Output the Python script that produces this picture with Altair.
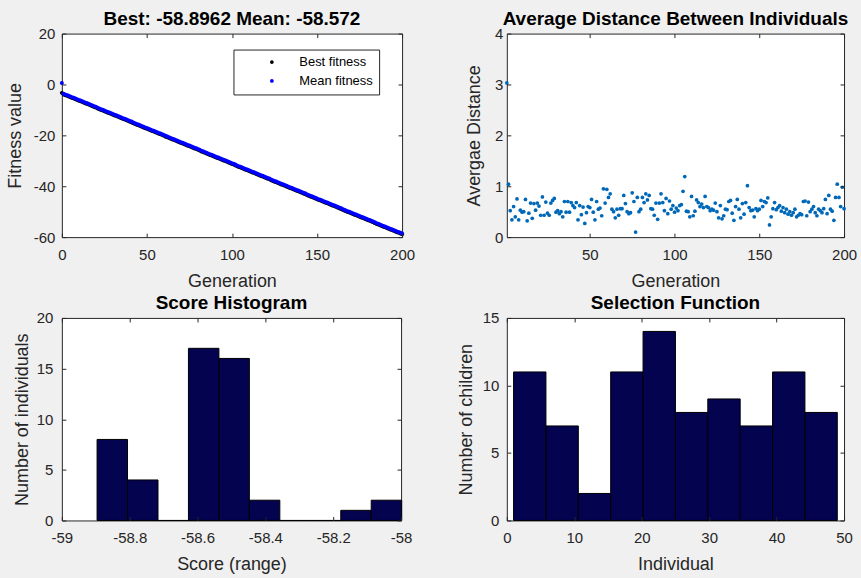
import altair as alt
import pandas as pd

FONT = "Liberation Sans"
AXC = "#262626"

# ---------------- Panel 1: fitness ----------------
generation = list(range(201))
best_fitness = [
    -3.3, -3.9, -4.2, -4.4, -4.7, -5.0, -5.3, -5.5, -5.8, -6.1, -6.4,
    -6.6, -6.9, -7.2, -7.5, -7.7, -8.0, -8.3, -8.6, -8.9, -9.1,
    -9.4, -9.7, -10.0, -10.2, -10.5, -10.8, -11.1, -11.3, -11.6, -11.9,
    -12.2, -12.4, -12.7, -13.0, -13.3, -13.6, -13.8, -14.1, -14.4, -14.7,
    -14.9, -15.2, -15.5, -15.8, -16.0, -16.3, -16.6, -16.9, -17.2, -17.4,
    -17.7, -18.0, -18.3, -18.5, -18.8, -19.1, -19.4, -19.6, -19.9, -20.2,
    -20.5, -20.7, -21.0, -21.3, -21.6, -21.8, -22.1, -22.4, -22.7, -23.0,
    -23.2, -23.5, -23.8, -24.1, -24.3, -24.6, -24.9, -25.2, -25.4, -25.7,
    -26.0, -26.3, -26.5, -26.8, -27.1, -27.4, -27.7, -27.9, -28.2, -28.5,
    -28.8, -29.0, -29.3, -29.6, -29.9, -30.1, -30.4, -30.7, -31.0, -31.3,
    -31.5, -31.8, -32.1, -32.4, -32.6, -32.9, -33.2, -33.5, -33.7, -34.0,
    -34.3, -34.6, -34.8, -35.1, -35.4, -35.7, -36.0, -36.2, -36.5, -36.8,
    -37.1, -37.3, -37.6, -37.9, -38.2, -38.4, -38.7, -39.0, -39.3, -39.5,
    -39.8, -40.1, -40.4, -40.7, -40.9, -41.2, -41.5, -41.8, -42.0, -42.3,
    -42.6, -42.9, -43.1, -43.4, -43.7, -44.0, -44.2, -44.5, -44.8, -45.1,
    -45.4, -45.6, -45.9, -46.2, -46.5, -46.7, -47.0, -47.3, -47.6, -47.8,
    -48.1, -48.4, -48.7, -48.9, -49.2, -49.5, -49.8, -50.1, -50.3, -50.6,
    -50.9, -51.2, -51.4, -51.7, -52.0, -52.3, -52.5, -52.8, -53.1, -53.4,
    -53.6, -53.9, -54.2, -54.5, -54.8, -55.0, -55.3, -55.6, -55.9, -56.1,
    -56.4, -56.7, -57.0, -57.2, -57.5, -57.8, -58.1, -58.3, -58.6, -58.8962,
]
mean_fitness = [
    0.6, -3.6, -3.9, -4.1, -4.4, -4.7, -5.0, -5.2, -5.5, -5.8, -6.1,
    -6.3, -6.6, -6.9, -7.2, -7.4, -7.7, -8.0, -8.3, -8.6, -8.8,
    -9.1, -9.4, -9.7, -9.9, -10.2, -10.5, -10.8, -11.0, -11.3, -11.6,
    -11.9, -12.1, -12.4, -12.7, -13.0, -13.3, -13.5, -13.8, -14.1, -14.4,
    -14.6, -14.9, -15.2, -15.5, -15.7, -16.0, -16.3, -16.6, -16.9, -17.1,
    -17.4, -17.7, -18.0, -18.2, -18.5, -18.8, -19.1, -19.3, -19.6, -19.9,
    -20.2, -20.4, -20.7, -21.0, -21.3, -21.5, -21.8, -22.1, -22.4, -22.7,
    -22.9, -23.2, -23.5, -23.8, -24.0, -24.3, -24.6, -24.9, -25.1, -25.4,
    -25.7, -26.0, -26.2, -26.5, -26.8, -27.1, -27.4, -27.6, -27.9, -28.2,
    -28.5, -28.7, -29.0, -29.3, -29.6, -29.8, -30.1, -30.4, -30.7, -31.0,
    -31.2, -31.5, -31.8, -32.1, -32.3, -32.6, -32.9, -33.2, -33.4, -33.7,
    -34.0, -34.3, -34.5, -34.8, -35.1, -35.4, -35.7, -35.9, -36.2, -36.5,
    -36.8, -37.0, -37.3, -37.6, -37.9, -38.1, -38.4, -38.7, -39.0, -39.2,
    -39.5, -39.8, -40.1, -40.4, -40.6, -40.9, -41.2, -41.5, -41.7, -42.0,
    -42.3, -42.6, -42.8, -43.1, -43.4, -43.7, -43.9, -44.2, -44.5, -44.8,
    -45.1, -45.3, -45.6, -45.9, -46.2, -46.4, -46.7, -47.0, -47.3, -47.5,
    -47.8, -48.1, -48.4, -48.6, -48.9, -49.2, -49.5, -49.8, -50.0, -50.3,
    -50.6, -50.9, -51.1, -51.4, -51.7, -52.0, -52.2, -52.5, -52.8, -53.1,
    -53.3, -53.6, -53.9, -54.2, -54.5, -54.7, -55.0, -55.3, -55.6, -55.8,
    -56.1, -56.4, -56.7, -56.9, -57.2, -57.5, -57.8, -58.0, -58.3, -58.572,
]
fitness_series = ["Best fitness", "Mean fitness"]
fitness_x_ticks = [0, 50, 100, 150, 200]
fitness_y_ticks = [-60, -40, -20, 0, 20]

# ---------------- Panel 2: average distance ----------------
dist_generation = list(range(1, 201))
avg_distance = [
    3.03, 1.04, 0.52, 0.34, 0.60, 0.40, 0.75, 0.34, 0.53, 0.49,
    0.50, 0.74, 0.32, 0.47, 0.67, 0.37, 0.66, 0.53, 0.67, 0.61,
    0.43, 0.79, 0.43, 0.69, 0.47, 0.43, 0.67, 0.72, 0.76, 0.49,
    0.52, 0.46, 0.50, 0.40, 0.70, 0.49, 0.70, 0.49, 0.68, 0.62,
    0.58, 0.68, 0.34, 0.62, 0.44, 0.59, 0.27, 0.48, 0.60, 0.58,
    0.74, 0.49, 0.34, 0.70, 0.55, 0.57, 0.42, 0.95, 0.67, 0.94,
    0.78, 0.85, 0.55, 0.50, 0.38, 0.55, 0.43, 0.56, 0.56, 0.82,
    0.66, 0.50, 0.46, 0.48, 0.87, 0.70, 0.10, 0.78, 0.50, 0.55,
    0.78, 0.68, 0.85, 0.73, 0.82, 0.56, 0.55, 0.43, 0.67, 0.35,
    0.67, 0.85, 0.68, 0.52, 0.76, 0.46, 0.71, 0.55, 0.62, 0.49,
    0.57, 0.52, 0.62, 0.64, 0.90, 1.19, 0.51, 0.50, 0.40, 0.80,
    0.42, 0.51, 0.73, 0.68, 0.60, 0.65, 0.58, 0.80, 0.60, 0.58,
    0.52, 0.55, 0.53, 0.67, 0.50, 0.38, 0.62, 0.36, 0.42, 0.55,
    0.54, 0.70, 0.72, 0.47, 0.33, 0.60, 0.74, 0.55, 0.38, 0.66,
    0.45, 0.68, 1.01, 0.58, 0.52, 0.53, 0.40, 0.56, 0.52, 0.55,
    0.72, 0.60, 0.70, 0.68, 0.77, 0.24, 0.40, 0.56, 0.68, 0.54,
    0.58, 0.62, 0.51, 0.58, 0.48, 0.55, 0.45, 0.50, 0.43, 0.48,
    0.55, 0.40, 0.43, 0.46, 0.44, 0.70, 0.71, 0.42, 0.69, 0.50,
    0.55, 0.60, 0.48, 0.42, 0.55, 0.52, 0.48, 0.56, 0.74, 0.46,
    0.82, 0.55, 0.51, 0.33, 0.78, 1.04, 0.78, 0.60, 0.98, 0.56,
]
dist_x_ticks = [50, 100, 150, 200]
dist_y_ticks = [0, 1, 2, 3, 4]

# ---------------- Panel 3: score histogram ----------------
score_bin_start = [-58.8962, -58.8064, -58.7166, -58.6268, -58.5370,
                   -58.4472, -58.3574, -58.2676, -58.1778, -58.0880]
score_bin_end = [-58.8064, -58.7166, -58.6268, -58.5370, -58.4472,
                 -58.3574, -58.2676, -58.1778, -58.0880, -57.9982]
score_counts = [8, 4, 0, 17, 16, 2, 0, 0, 1, 2]
score_x_ticks = [-59, -58.8, -58.6, -58.4, -58.2, -58]
score_y_ticks = [0, 5, 10, 15, 20]

# ---------------- Panel 4: selection function ----------------
sel_bin_start = [1, 5.8, 10.6, 15.4, 20.2, 25.0, 29.8, 34.6, 39.4, 44.2]
sel_bin_end = [5.8, 10.6, 15.4, 20.2, 25.0, 29.8, 34.6, 39.4, 44.2, 49]
sel_counts = [11, 7, 2, 11, 14, 8, 9, 7, 11, 8]
sel_x_ticks = [0, 10, 20, 30, 40, 50]
sel_y_ticks = [0, 5, 10, 15]

BAR_FILL = "#03034f"


def ax(values, orient, title=None, label_pad=10, title_pad=39, labels=True):
    kw = dict(
        values=values, orient=orient, domain=False, grid=False, ticks=True,
        tickSize=4, offset=-4, tickColor=AXC, tickWidth=1,
        labels=labels, labelColor=AXC, labelFont=FONT, labelFontSize=15,
        labelPadding=label_pad, labelOverlap=False, labelFlush=False,
        labelBound=False, labelExpr="'' + datum.value",
        minExtent=0, maxExtent=0, zindex=1,
    )
    if title is not None:
        kw.update(title=title, titleFont=FONT, titleFontSize=18,
                  titleFontWeight="normal", titleColor=AXC,
                  titlePadding=title_pad)
    else:
        kw.update(title=None)
    return alt.Axis(**kw)


def ptitle(text):
    return alt.TitleParams(text=text, font=FONT, fontSize=19, fontWeight="bold",
                           color="black", frame="group", anchor="middle", offset=-2)


# ---- panel 1
fit_df = pd.DataFrame({
    "gen": generation * 2,
    "value": best_fitness + mean_fitness,
    "series": [fitness_series[0]] * len(generation) + [fitness_series[1]] * len(generation),
    "order": list(range(2 * len(generation))),
})
xs1 = alt.Scale(domain=[0, 200], nice=False, zero=False)
ys1 = alt.Scale(domain=[-60, 20], nice=False, zero=False)
p1_main = alt.Chart(fit_df).mark_circle(size=16, opacity=1).encode(
    x=alt.X("gen:Q", scale=xs1, axis=ax(fitness_x_ticks, "bottom", "Generation")),
    y=alt.Y("value:Q", scale=ys1, axis=ax(fitness_y_ticks, "left", "Fitness value", 7, 41)),
    color=alt.Color("series:N", scale=alt.Scale(domain=fitness_series, range=["#000000", "#0000ff"]),
                    legend=alt.Legend(title=None, orient="none", legendX=172, legendY=16,
                                      strokeColor=AXC, fillColor="white", padding=6,
                                      symbolType="circle", symbolSize=14, symbolOffset=26,
                                      labelOffset=21, labelFont=FONT, labelFontSize=13,
                                      labelColor="black", rowPadding=5, symbolStrokeWidth=0)),
    order="order:Q",
)
p1_frame = alt.Chart(fit_df).mark_circle(opacity=0).encode(
    x=alt.X("gen:Q", scale=xs1, axis=ax(fitness_x_ticks, "top", labels=False)),
    y=alt.Y("value:Q", scale=ys1, axis=ax(fitness_y_ticks, "right", labels=False)),
)
p1 = alt.layer(p1_main, p1_frame).properties(
    width=341, height=204, title=ptitle("Best: -58.8962 Mean: -58.572"))

# ---- panel 2
dist_df = pd.DataFrame({"gen": dist_generation, "dist": avg_distance})
xs2 = alt.Scale(domain=[1, 200], nice=False, zero=False)
ys2 = alt.Scale(domain=[0, 4], nice=False, zero=False)
p2_main = alt.Chart(dist_df).mark_circle(size=14, opacity=1, color="#0068b8").encode(
    x=alt.X("gen:Q", scale=xs2, axis=ax(dist_x_ticks, "bottom", "Generation")),
    y=alt.Y("dist:Q", scale=ys2, axis=ax(dist_y_ticks, "left", "Avergae Distance", 4, 27)),
)
p2_frame = alt.Chart(dist_df).mark_circle(opacity=0).encode(
    x=alt.X("gen:Q", scale=xs2, axis=ax(dist_x_ticks, "top", labels=False)),
    y=alt.Y("dist:Q", scale=ys2, axis=ax(dist_y_ticks, "right", labels=False)),
)
p2 = alt.layer(p2_main, p2_frame).properties(
    width=338, height=204, title=ptitle("Average Distance Between Individuals"))

# ---- panel 3
score_df = pd.DataFrame({"x0": score_bin_start, "x1": score_bin_end, "n": score_counts})
xs3 = alt.Scale(domain=[-59, -58], nice=False, zero=False)
ys3 = alt.Scale(domain=[0, 20], nice=False, zero=False)
p3_main = alt.Chart(score_df).mark_rect(fill=BAR_FILL, stroke="black", strokeWidth=1).encode(
    x=alt.X("x0:Q", scale=xs3, axis=ax(score_x_ticks, "bottom", "Score (range)")),
    x2="x1:Q",
    y=alt.Y("n:Q", scale=ys3, axis=ax(score_y_ticks, "left", "Number of individuals", 9, 34)),
    y2=alt.datum(0),
)
p3_frame = alt.Chart(score_df).mark_point(opacity=0).encode(
    x=alt.X("x0:Q", scale=xs3, axis=ax(score_x_ticks, "top", labels=False)),
    y=alt.Y("n:Q", scale=ys3, axis=ax(score_y_ticks, "right", labels=False)),
)
p3 = alt.layer(p3_main, p3_frame).properties(
    width=340, height=203, title=ptitle("Score Histogram"))

# ---- panel 4
sel_df = pd.DataFrame({"x0": sel_bin_start, "x1": sel_bin_end, "n": sel_counts})
xs4 = alt.Scale(domain=[0, 50], nice=False, zero=False)
ys4 = alt.Scale(domain=[0, 15], nice=False, zero=False)
p4_main = alt.Chart(sel_df).mark_rect(fill=BAR_FILL, stroke="black", strokeWidth=1).encode(
    x=alt.X("x0:Q", scale=xs4, axis=ax(sel_x_ticks, "bottom", "Individual")),
    x2="x1:Q",
    y=alt.Y("n:Q", scale=ys4, axis=ax(sel_y_ticks, "left", "Number of children", 8, 35)),
    y2=alt.datum(0),
)
p4_frame = alt.Chart(sel_df).mark_point(opacity=0).encode(
    x=alt.X("x0:Q", scale=xs4, axis=ax(sel_x_ticks, "top", labels=False)),
    y=alt.Y("n:Q", scale=ys4, axis=ax(sel_y_ticks, "right", labels=False)),
)
p4 = alt.layer(p4_main, p4_frame).properties(
    width=338, height=203, title=ptitle("Selection Function"))

chart = alt.concat(
    p1, p2, p3, p4, columns=2, spacing={"row": 81, "column": 105}, bounds="flush"
).resolve_scale(color="independent").properties(
    padding={"left": 6, "top": 8, "right": 3, "bottom": 4},
    background="#f0f0f0",
).configure_view(
    stroke=AXC, strokeWidth=1, fill="white"
)

chart.save("out.html", embed_options={"renderer": "svg", "actions": False})
